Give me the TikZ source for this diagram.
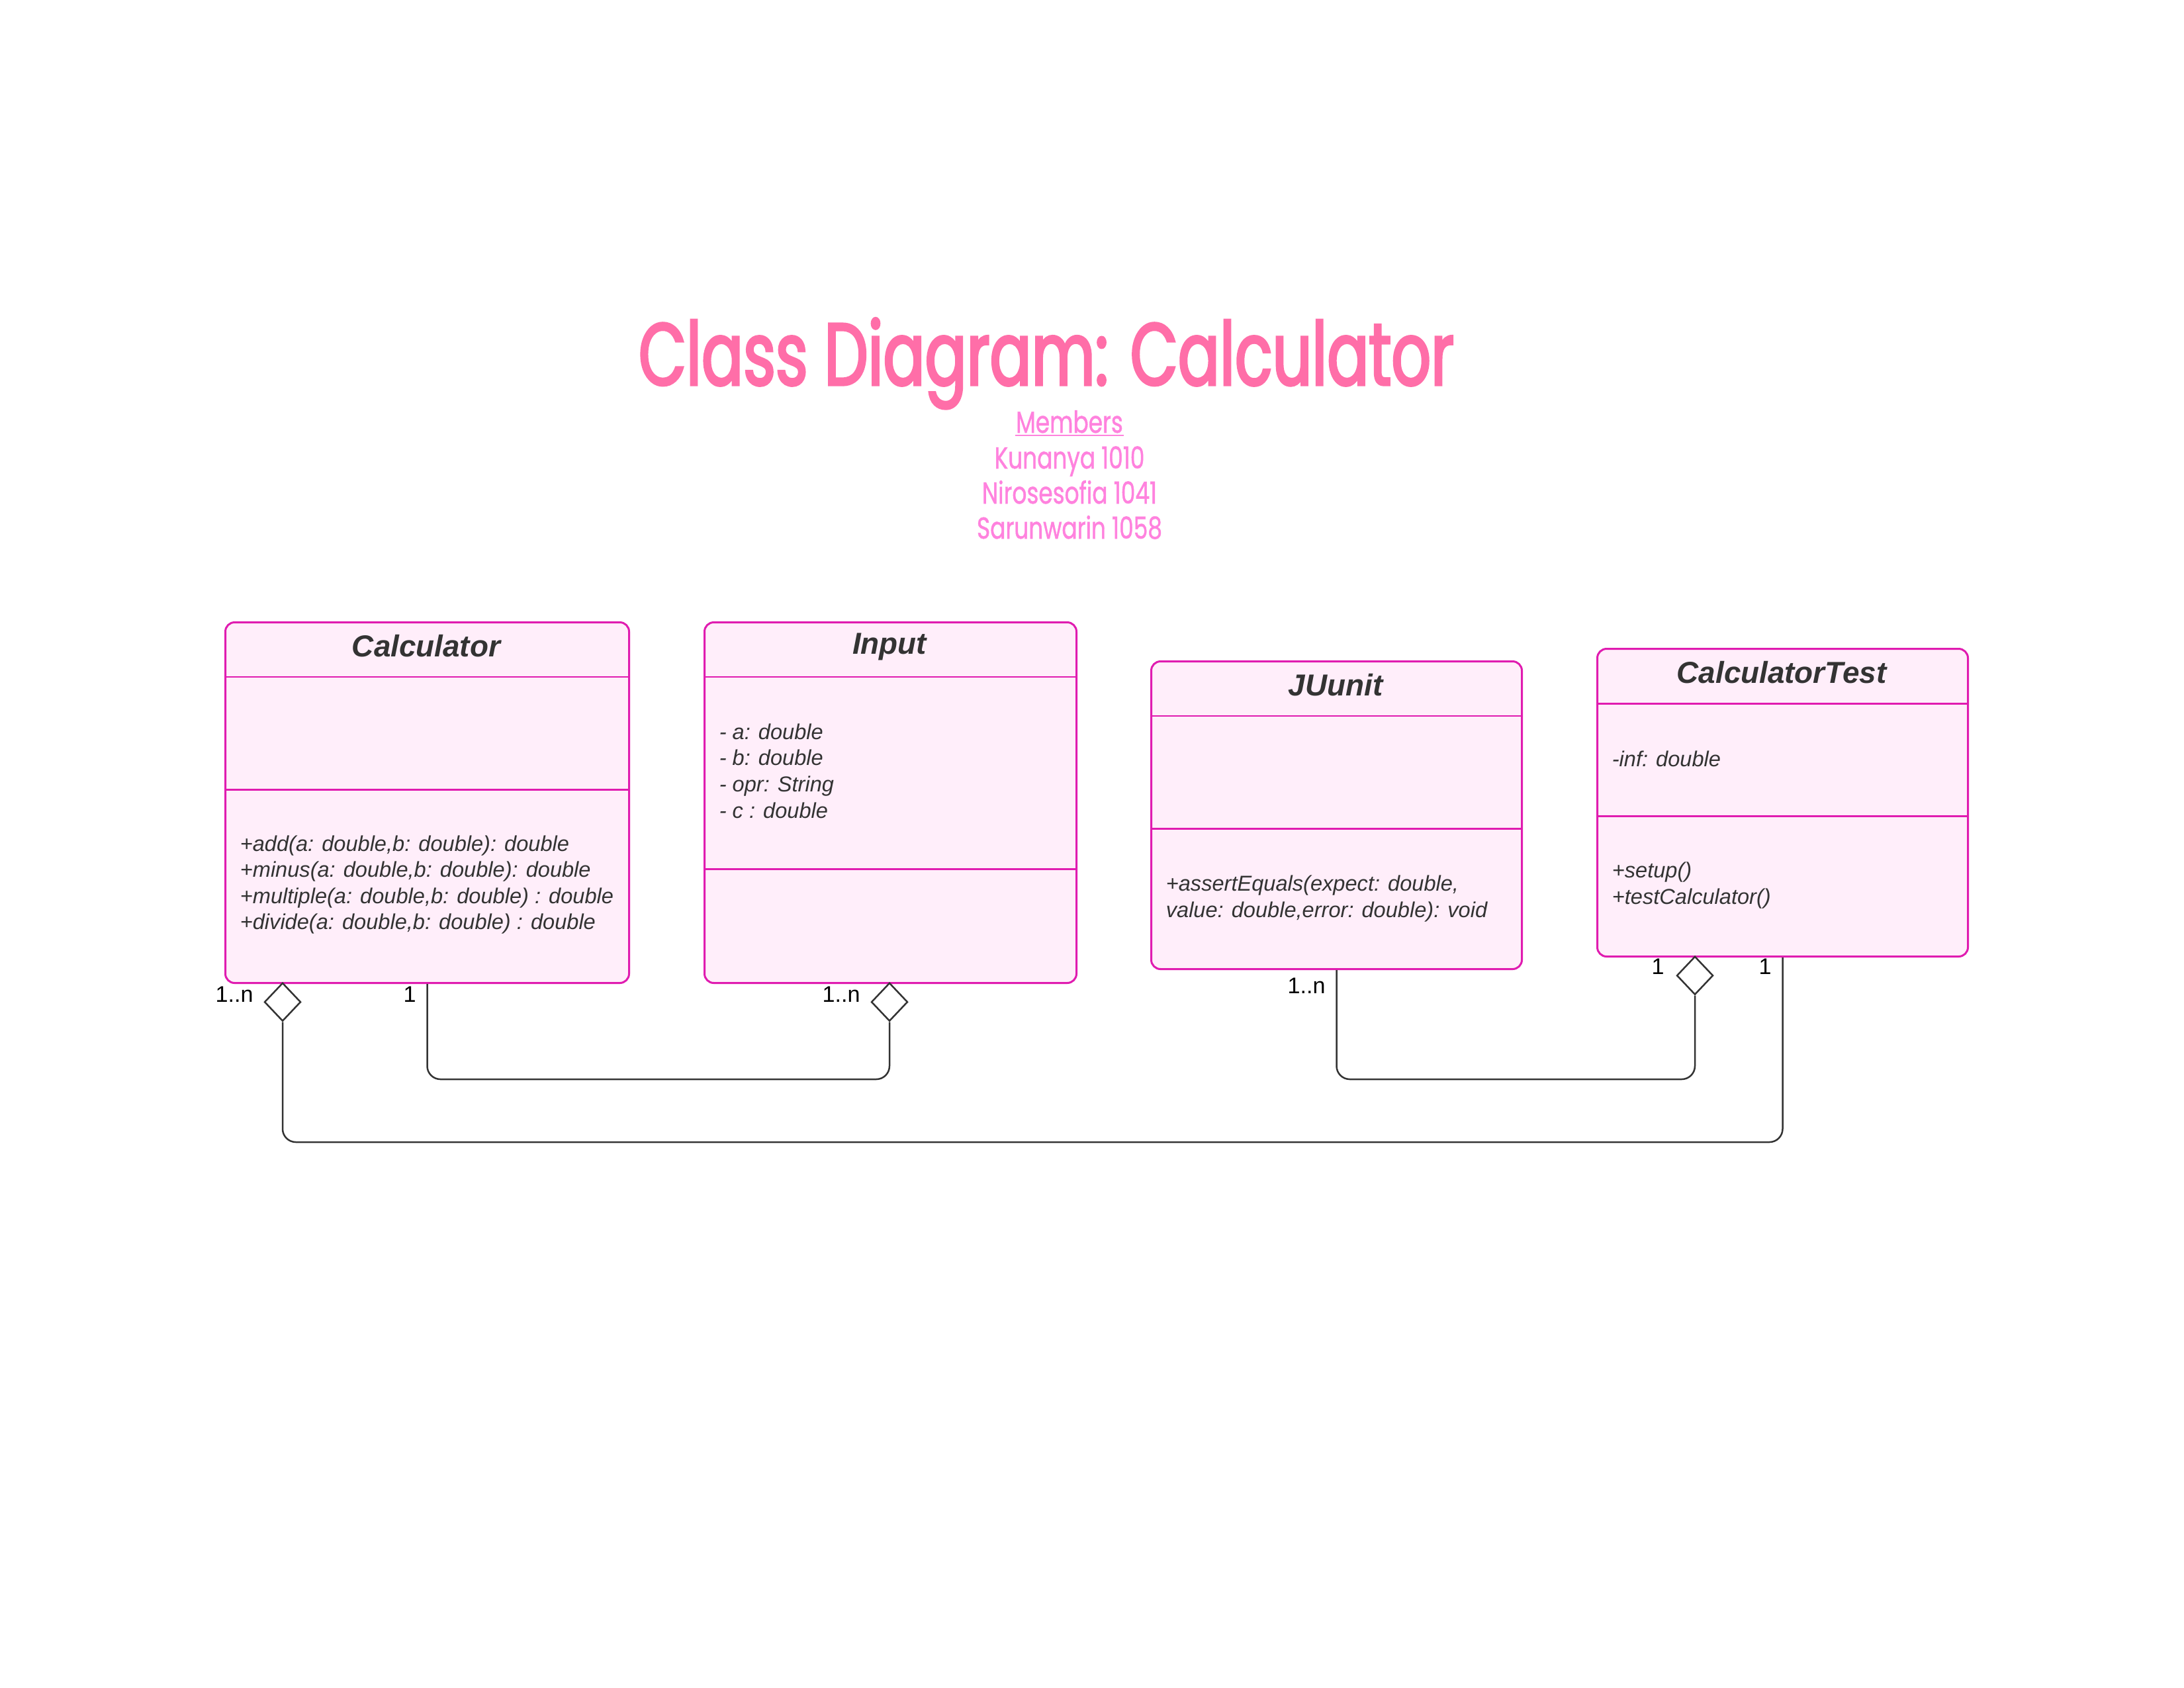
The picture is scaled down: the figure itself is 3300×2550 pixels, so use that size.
\documentclass[tikz,border=0pt]{standalone}
\usepackage{fontspec}
\setmainfont{Liberation Sans}
\newfontfamily\titlefont[FakeStretch=0.70, FakeBold=2.5]{Poppins}
\newfontfamily\memberfont[FakeStretch=0.75, FakeBold=1]{Poppins}
\usetikzlibrary{shapes.geometric,calc}
\newdimen\px \px=0.24bp
\definecolor{titlepink}{RGB}{255,110,168}
\definecolor{memberpink}{RGB}{255,130,222}
\definecolor{boxline}{RGB}{224,28,176}
\definecolor{boxfill}{RGB}{255,238,250}
\definecolor{boxtext}{RGB}{51,51,51}
\definecolor{connline}{RGB}{51,51,51}
\tikzset{
 classbox/.style={draw=boxline, fill=boxfill, line width=0.72bp, rounded corners=14\px, anchor=north west, inner sep=0pt},
 thinsep/.style={draw=boxline, line width=0.4bp},
 thicksep/.style={draw=boxline, line width=0.72bp},
 classname/.style={font=\fontsize{11bp}{13bp}\selectfont\bfseries\itshape, text=boxtext},
 members/.style={font=\fontsize{7.82bp}{9.5bp}\selectfont\itshape, text=boxtext, align=left, anchor=west, inner sep=0pt},
 conn/.style={draw=connline, line width=0.6bp, rounded corners=20\px},
 aggr/.style={diamond, draw=connline, fill=white, line width=0.6bp, minimum width=55\px, minimum height=58\px, inner sep=0pt, anchor=north},
 mult/.style={font=\fontsize{8.2bp}{10bp}\selectfont, text=black, inner sep=0pt},
 memberline/.style={font=\memberfont\fontsize{11bp}{13bp}\selectfont, text=memberpink, anchor=base, inner sep=0pt},
}
\begin{document}
\begin{tikzpicture}[x=0.24bp,y=-0.24bp]
\path[use as bounding box, fill=white] (0,0) rectangle (3300,2550);
% title
\node[font=\titlefont\fontsize{32bp}{38bp}\selectfont, text=titlepink, anchor=base, inner sep=0pt] (title) at (1581,582) {Class Diagram: Calculator};
\node[memberline] (mhead) at (1616,654) {Members};
\draw[memberpink, line width=0.5bp] ([yshift=-4\px]mhead.base west) -- ([yshift=-4\px]mhead.base east);
\node[memberline] (mem1) at (1616,708) {Kunanya 1010};
\node[memberline] (mem2) at (1616,761) {Nirosesofia 1041};
\node[memberline] (mem3) at (1616,814) {Sarunwarin 1058};
% Calculator
\node[classbox, minimum width=610\px, minimum height=545\px] (calc) at (339,939) {};
\draw[thinsep] (calc.west |- 0,1023) -- (calc.east |- 0,1023);
\draw[thicksep] (calc.west |- 0,1193) -- (calc.east |- 0,1193);
\node[classname] (calcN) at (644,976) {Calculator};
\node[members] (calcM) at (362,1337) {+add(a: double,b: double): double\\+minus(a: double,b: double): double\\+multiple(a: double,b: double) : double\\+divide(a: double,b: double) : double};
% Input
\node[classbox, minimum width=562\px, minimum height=545\px] (inp) at (1063,939) {};
\draw[thinsep] (inp.west |- 0,1023) -- (inp.east |- 0,1023);
\draw[thicksep] (inp.west |- 0,1313) -- (inp.east |- 0,1313);
\node[classname] (inpN) at (1344,977) {Input};
\node[members] (inpA) at (1086,1165) {- a: double\\- b: double\\- opr: String\\- c : double};
% JUunit
\node[classbox, minimum width=560\px, minimum height=465\px] (ju) at (1738,998) {};
\draw[thinsep] (ju.west |- 0,1082) -- (ju.east |- 0,1082);
\draw[thicksep] (ju.west |- 0,1252) -- (ju.east |- 0,1252);
\node[classname] (juN) at (2018,1035) {JUunit};
\node[members] (juM) at (1761,1358) {+assertEquals(expect: double,\\value: double,error: double): void};
% CalculatorTest
\node[classbox, minimum width=560\px, minimum height=465\px] (ct) at (2412,979) {};
\draw[thicksep] (ct.west |- 0,1063) -- (ct.east |- 0,1063);
\draw[thicksep] (ct.west |- 0,1233) -- (ct.east |- 0,1233);
\node[classname] (ctN) at (2692,1016) {CalculatorTest};
\node[members] (ctA) at (2435,1147) {-inf: double};
\node[members] (ctM) at (2435,1338) {+setup()\\+testCalculator()};
% diamonds
\node[aggr] (calcDia) at (427,1484) {};
\node[aggr] (inpDia) at (1344,1484) {};
\node[aggr] (ctDia) at (2561,1444) {};
% connectors
\draw[conn] (calc.south) -- (calc.south |- 0,1631) -- (inpDia.south |- 0,1631) -- (inpDia.south);
\draw[conn] (calcDia.south) -- (calcDia.south |- 0,1726) -- (ct.south |- 0,1726) -- (ct.south);
\draw[conn] (ju.south) -- (ju.south |- 0,1631) -- (ctDia.south |- 0,1631) -- (ctDia.south);
% multiplicities
\node[mult] (m1) at (354,1503) {1..n};
\node[mult] (m2) at (619,1503) {1};
\node[mult] (m3) at (1271,1503) {1..n};
\node[mult] (m4) at (1974,1490) {1..n};
\node[mult] (m5) at (2505,1461) {1};
\node[mult] (m6) at (2667,1461) {1};
\end{tikzpicture}
\end{document}
